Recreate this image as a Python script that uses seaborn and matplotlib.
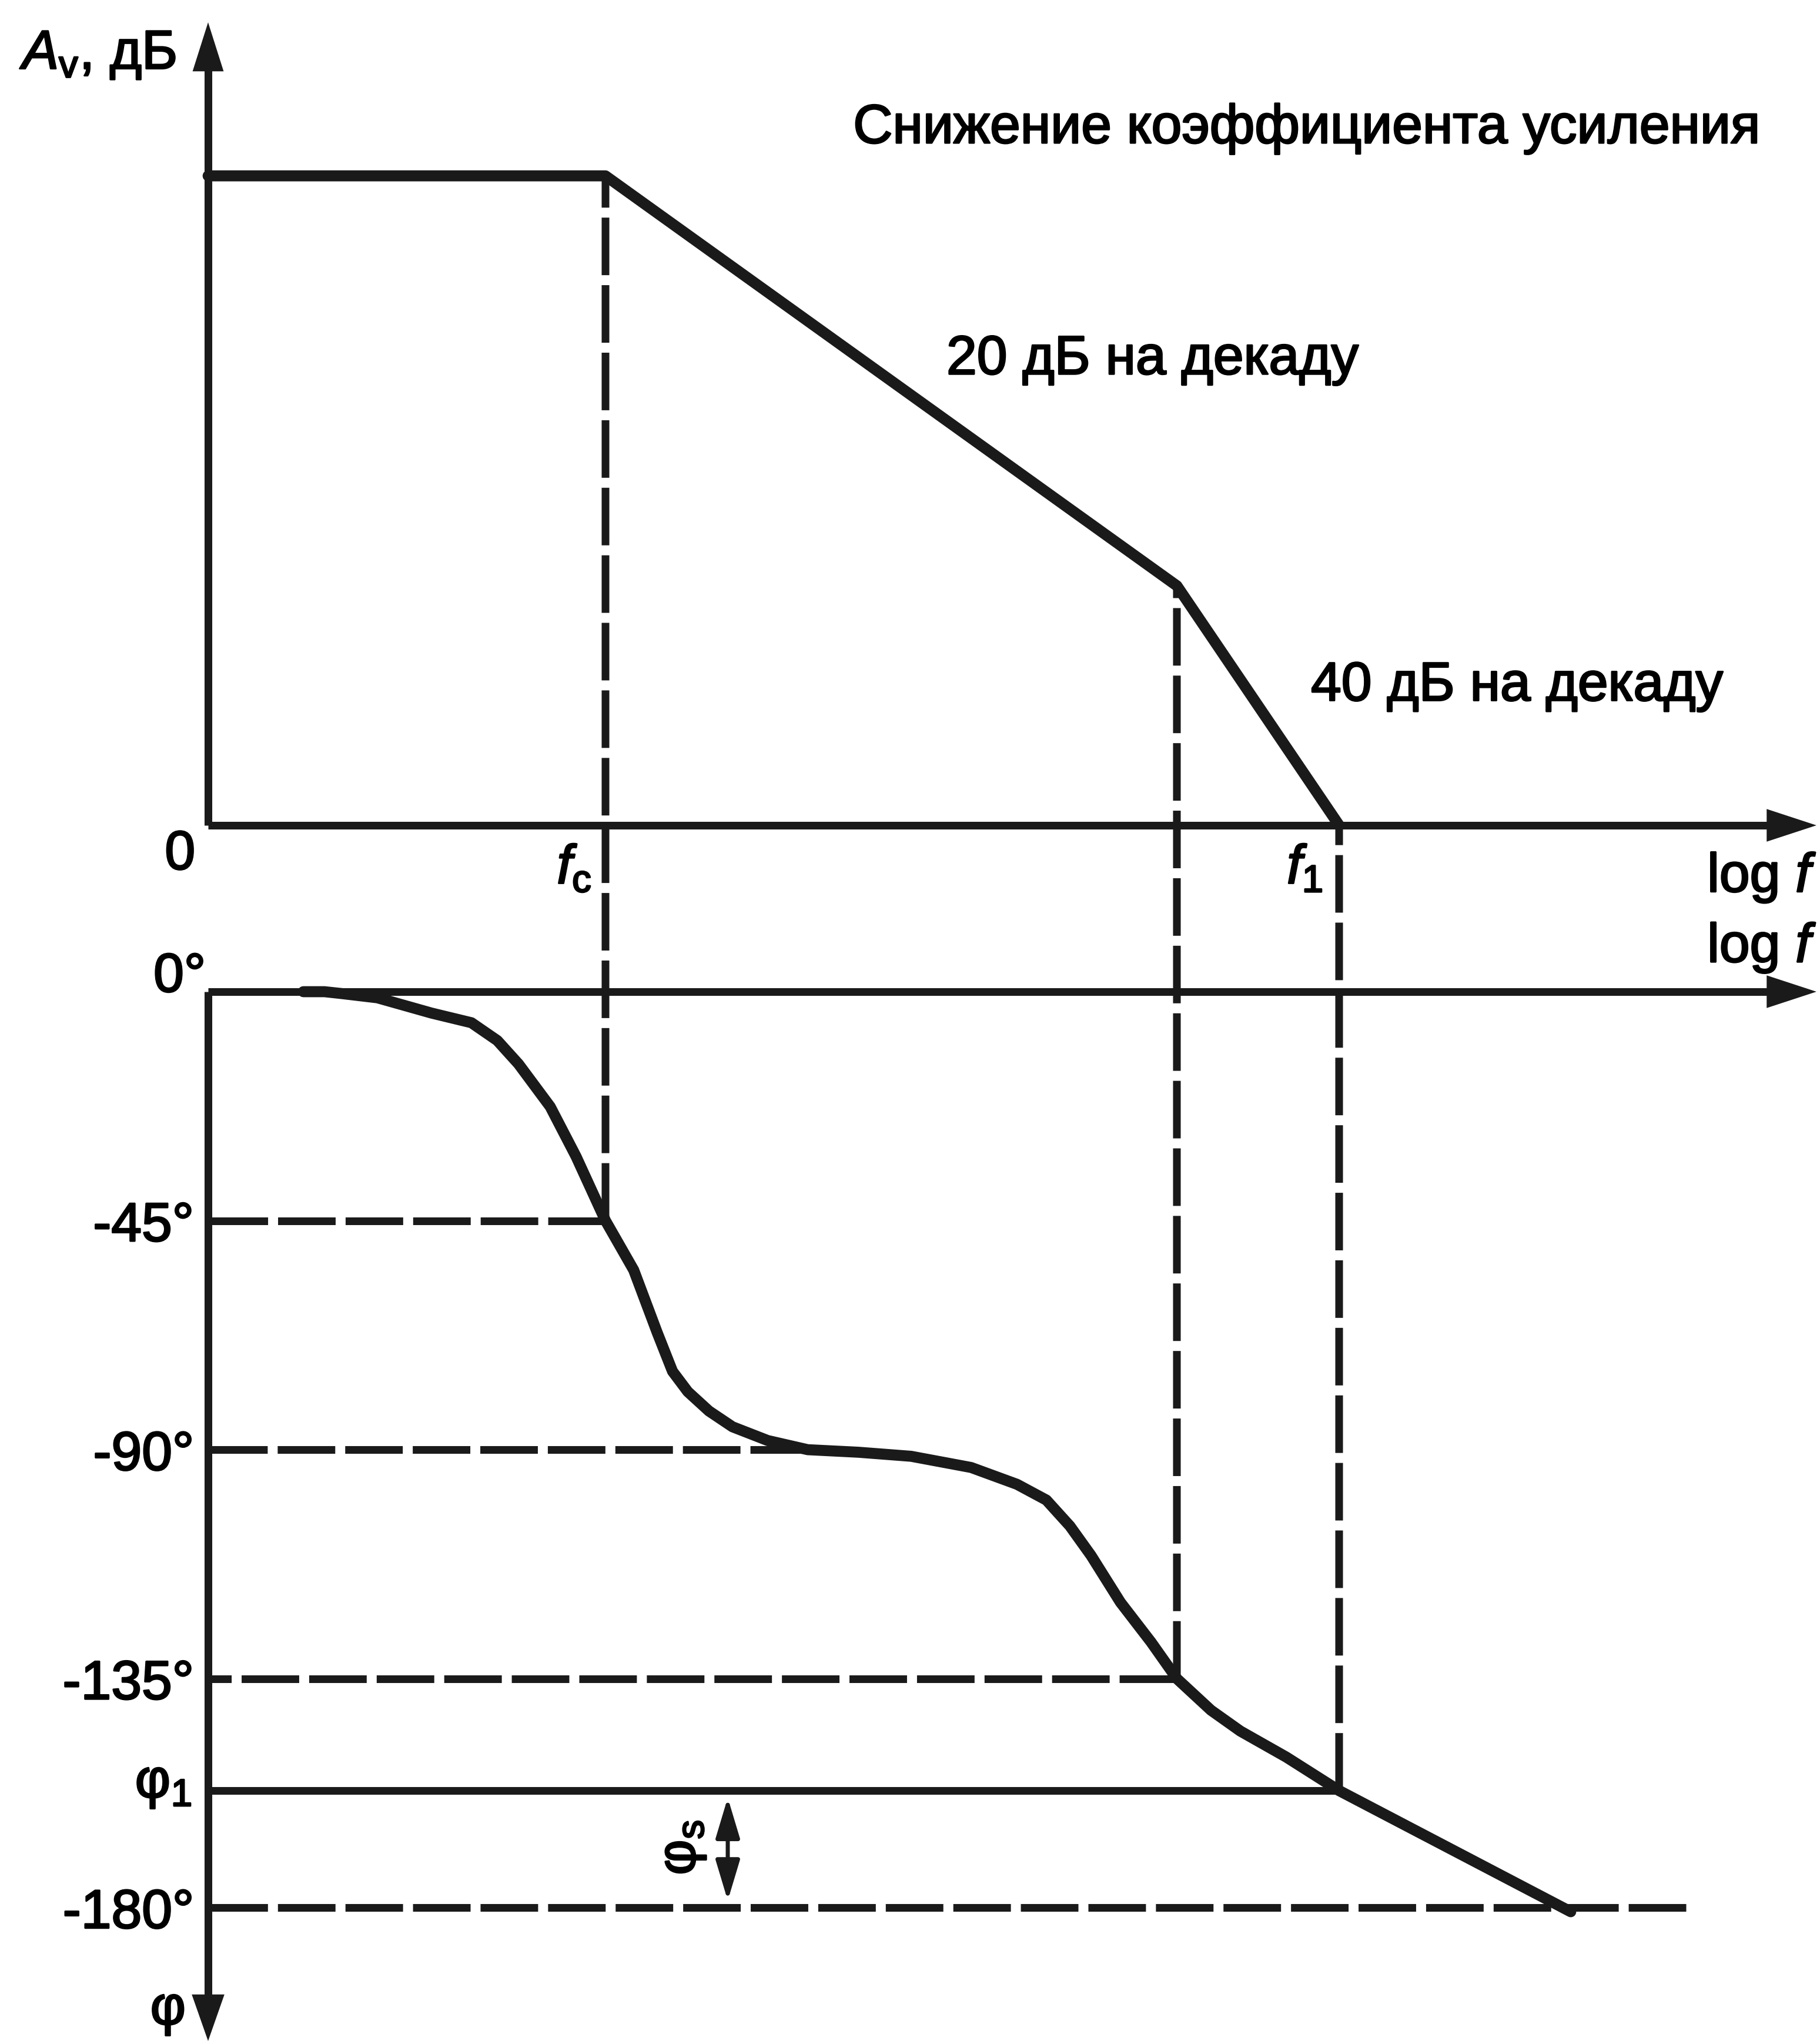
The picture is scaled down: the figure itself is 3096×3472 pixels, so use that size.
import matplotlib
matplotlib.use("Agg")
import matplotlib.pyplot as plt
import matplotlib.patheffects as pe
import pandas as pd
import seaborn as sns
from matplotlib.patches import ConnectionPatch

# x axis: log f in decades, measured from the origin of the diagram
gain_x = [0.0, 1.69, 4.12, 4.81]          # start, f_c, second pole, f_1
gain_db = [77.0, 77.0, 28.4, 0.0]

phase_x = [0.405, 0.495, 0.565, 0.72, 0.95, 1.12, 1.23, 1.32, 1.455, 1.565, 1.69,
           1.81, 1.91, 1.975, 2.04, 2.13, 2.23, 2.38, 2.55, 2.765, 2.99, 3.245,
           3.44, 3.565, 3.665, 3.755, 3.88, 4.01, 4.12, 4.265, 4.39, 4.585, 4.81, 5.795]
phase_deg = [0.0, 0.0, -0.35, -1.2, -4.2, -6.1, -9.6, -14.2, -22.6, -32.4, -45.0,
             -54.7, -67.0, -74.6, -78.6, -82.4, -85.5, -88.2, -90.0, -90.5, -91.3, -93.5,
             -96.8, -99.9, -105.0, -110.8, -120.0, -127.8, -135.0, -141.2, -145.3, -150.4, -157.0, -180.8]

phase_levels = [-45, -90, -135, -180]
phase_level_ends = [1.69, 2.55, 4.12, 6.285]
phase_labels = ["0°", "-45°", "-90°", "-135°", "-180°"]
phi_1 = -157.0
phi_s_x = 2.21

X_MAX = 6.84
LW_AX = 9.4       # axes, guides
LW_CURVE = 13.5   # gain and phase curves
DASH = (0, (7.5, 1.3))
FS = 67

sns.set_theme(style="white")
plt.rcParams["font.family"] = ["Liberation Sans", "DejaVu Sans"]
plt.rcParams["text.color"] = "black"
plt.rcParams["mathtext.fontset"] = "custom"
plt.rcParams["mathtext.rm"] = "Liberation Sans"
plt.rcParams["mathtext.it"] = "Liberation Sans:italic"
plt.rcParams["mathtext.sf"] = "Liberation Sans"
plt.rcParams["mathtext.bf"] = "Liberation Sans:bold"

# the original lettering is a little heavier than Liberation Sans regular
TXT = dict(fontsize=FS, color="black",
           path_effects=[pe.withStroke(linewidth=2.0, foreground="black")])

fig = plt.figure(figsize=(30.96, 34.72), dpi=100)
ax_g = fig.add_axes([354 / 3096, 1 - 1404 / 3472, 2736 / 3096, 1366 / 3472])
ax_p = fig.add_axes([354 / 3096, 0, 2736 / 3096, 1785 / 3472])
ax_g.set_xlim(0, X_MAX)
ax_g.set_ylim(0, 95.2)
ax_p.set_xlim(0, X_MAX)
ax_p.set_ylim(-206.2, 0)
for ax in (ax_g, ax_p):
    ax.set_axis_off()


def head(ax, tip, tail, length, half_width):
    ax.annotate("", xy=tip, xytext=tail, annotation_clip=False,
                arrowprops=dict(arrowstyle=f"-|>,head_length={length},head_width={half_width}",
                                mutation_scale=1, lw=0, color="k", shrinkA=0, shrinkB=0))


# axes of the gain plot
ax_g.plot([0, 0], [0, 92], color="k", lw=LW_AX, clip_on=False, solid_capstyle="butt")
head(ax_g, (0, 95.2), (0, 85), 60, 19)
ax_g.plot([0, X_MAX - 0.12], [0, 0], color="k", lw=LW_AX, clip_on=False, solid_capstyle="butt")
head(ax_g, (X_MAX, 0), (X_MAX - 0.5, 0), 61, 20)

# axes of the phase plot
ax_p.plot([0, 0], [0, -200], color="k", lw=LW_AX, clip_on=False, solid_capstyle="butt")
head(ax_p, (0, -206.2), (0, -190), 57, 20)
ax_p.plot([0, X_MAX - 0.12], [0, 0], color="k", lw=LW_AX, clip_on=False, solid_capstyle="butt")
head(ax_p, (X_MAX, 0), (X_MAX - 0.5, 0), 61, 20)

# horizontal guides, drawn from the curve back to the axis
for lvl, x_end in zip(phase_levels, phase_level_ends):
    ax_p.plot([x_end, 0], [lvl, lvl], color="k", lw=LW_AX, linestyle=DASH,
              dash_capstyle="butt", clip_on=False)
ax_p.plot([gain_x[3], 0], [phi_1, phi_1], color="k", lw=LW_AX, clip_on=False,
          solid_capstyle="butt")

# vertical guides linking the two plots
for xv, ph, g in [(gain_x[1], -45, gain_db[1]), (gain_x[2], -135, gain_db[2]),
                  (gain_x[3], phi_1, gain_db[3])]:
    con = ConnectionPatch(xyA=(xv, ph), coordsA=ax_p.transData,
                          xyB=(xv, g), coordsB=ax_g.transData,
                          color="k", lw=LW_AX, linestyle=DASH, capstyle="butt")
    fig.add_artist(con)

# curves
gain_df = pd.DataFrame({"log_f": gain_x, "gain": gain_db})
phase_df = pd.DataFrame({"log_f": phase_x, "phase": phase_deg})
sns.lineplot(data=gain_df, x="log_f", y="gain", ax=ax_g, color="k", lw=LW_CURVE,
             estimator=None, sort=False)
sns.lineplot(data=phase_df, x="log_f", y="phase", ax=ax_p, color="k", lw=LW_CURVE,
             estimator=None, sort=False)
for ax in (ax_g, ax_p):
    for ln in ax.lines:
        ln.set_clip_on(False)

# phase margin arrow
ax_p.annotate("", xy=(phi_s_x, -180), xytext=(phi_s_x, phi_1), annotation_clip=False,
              arrowprops=dict(arrowstyle="<|-|>,head_length=42,head_width=12.6",
                              mutation_scale=1, lw=5, color="k", shrinkA=8.7, shrinkB=8.7))
ax_p.text(2.015, -168.2, r"$\mathrm{φ}_\mathrm{s}$", rotation=90, ha="center", va="center", **TXT)

# texts of the gain plot
ax_g.text(-0.79, 89.7, r"$A_\mathrm{v}$, дБ", ha="left", va="baseline", **TXT)
ax_g.text(6.60, 80.9, "Снижение коэффициента усиления", ha="right", va="baseline", **TXT)
ax_g.text(3.14, 53.5, "20 дБ на декаду", ha="left", va="baseline", **TXT)
ax_g.text(4.69, 14.8, "40 дБ на декаду", ha="left", va="baseline", **TXT)
ax_g.text(-0.055, -5.2, "0", ha="right", va="baseline", **TXT)
ax_g.text(1.63, -6.9, r"$f_\mathrm{c}$", ha="right", va="baseline", **TXT)
ax_g.text(4.74, -6.9, r"$f_\mathrm{1}$", ha="right", va="baseline", **TXT)
ax_g.text(X_MAX, -7.9, r"log $f$", ha="right", va="baseline", **TXT)

# texts of the phase plot
ax_p.text(X_MAX, 5.8, r"log $f$", ha="right", va="baseline", **TXT)
ax_p.text(-0.01, 0, phase_labels[0], ha="right", va="baseline", **TXT)
for lvl, lab in zip(phase_levels, phase_labels[1:]):
    ax_p.text(-0.06, lvl - 4, lab, ha="right", va="baseline", **TXT)
ax_p.text(-0.07, -158.3, r"$\mathrm{φ}_\mathrm{1}$", ha="right", va="baseline", **TXT)
ax_p.text(-0.1, -202.9, r"$\mathrm{φ}$", ha="right", va="baseline", **TXT)

fig.savefig("out.png", dpi=100)
